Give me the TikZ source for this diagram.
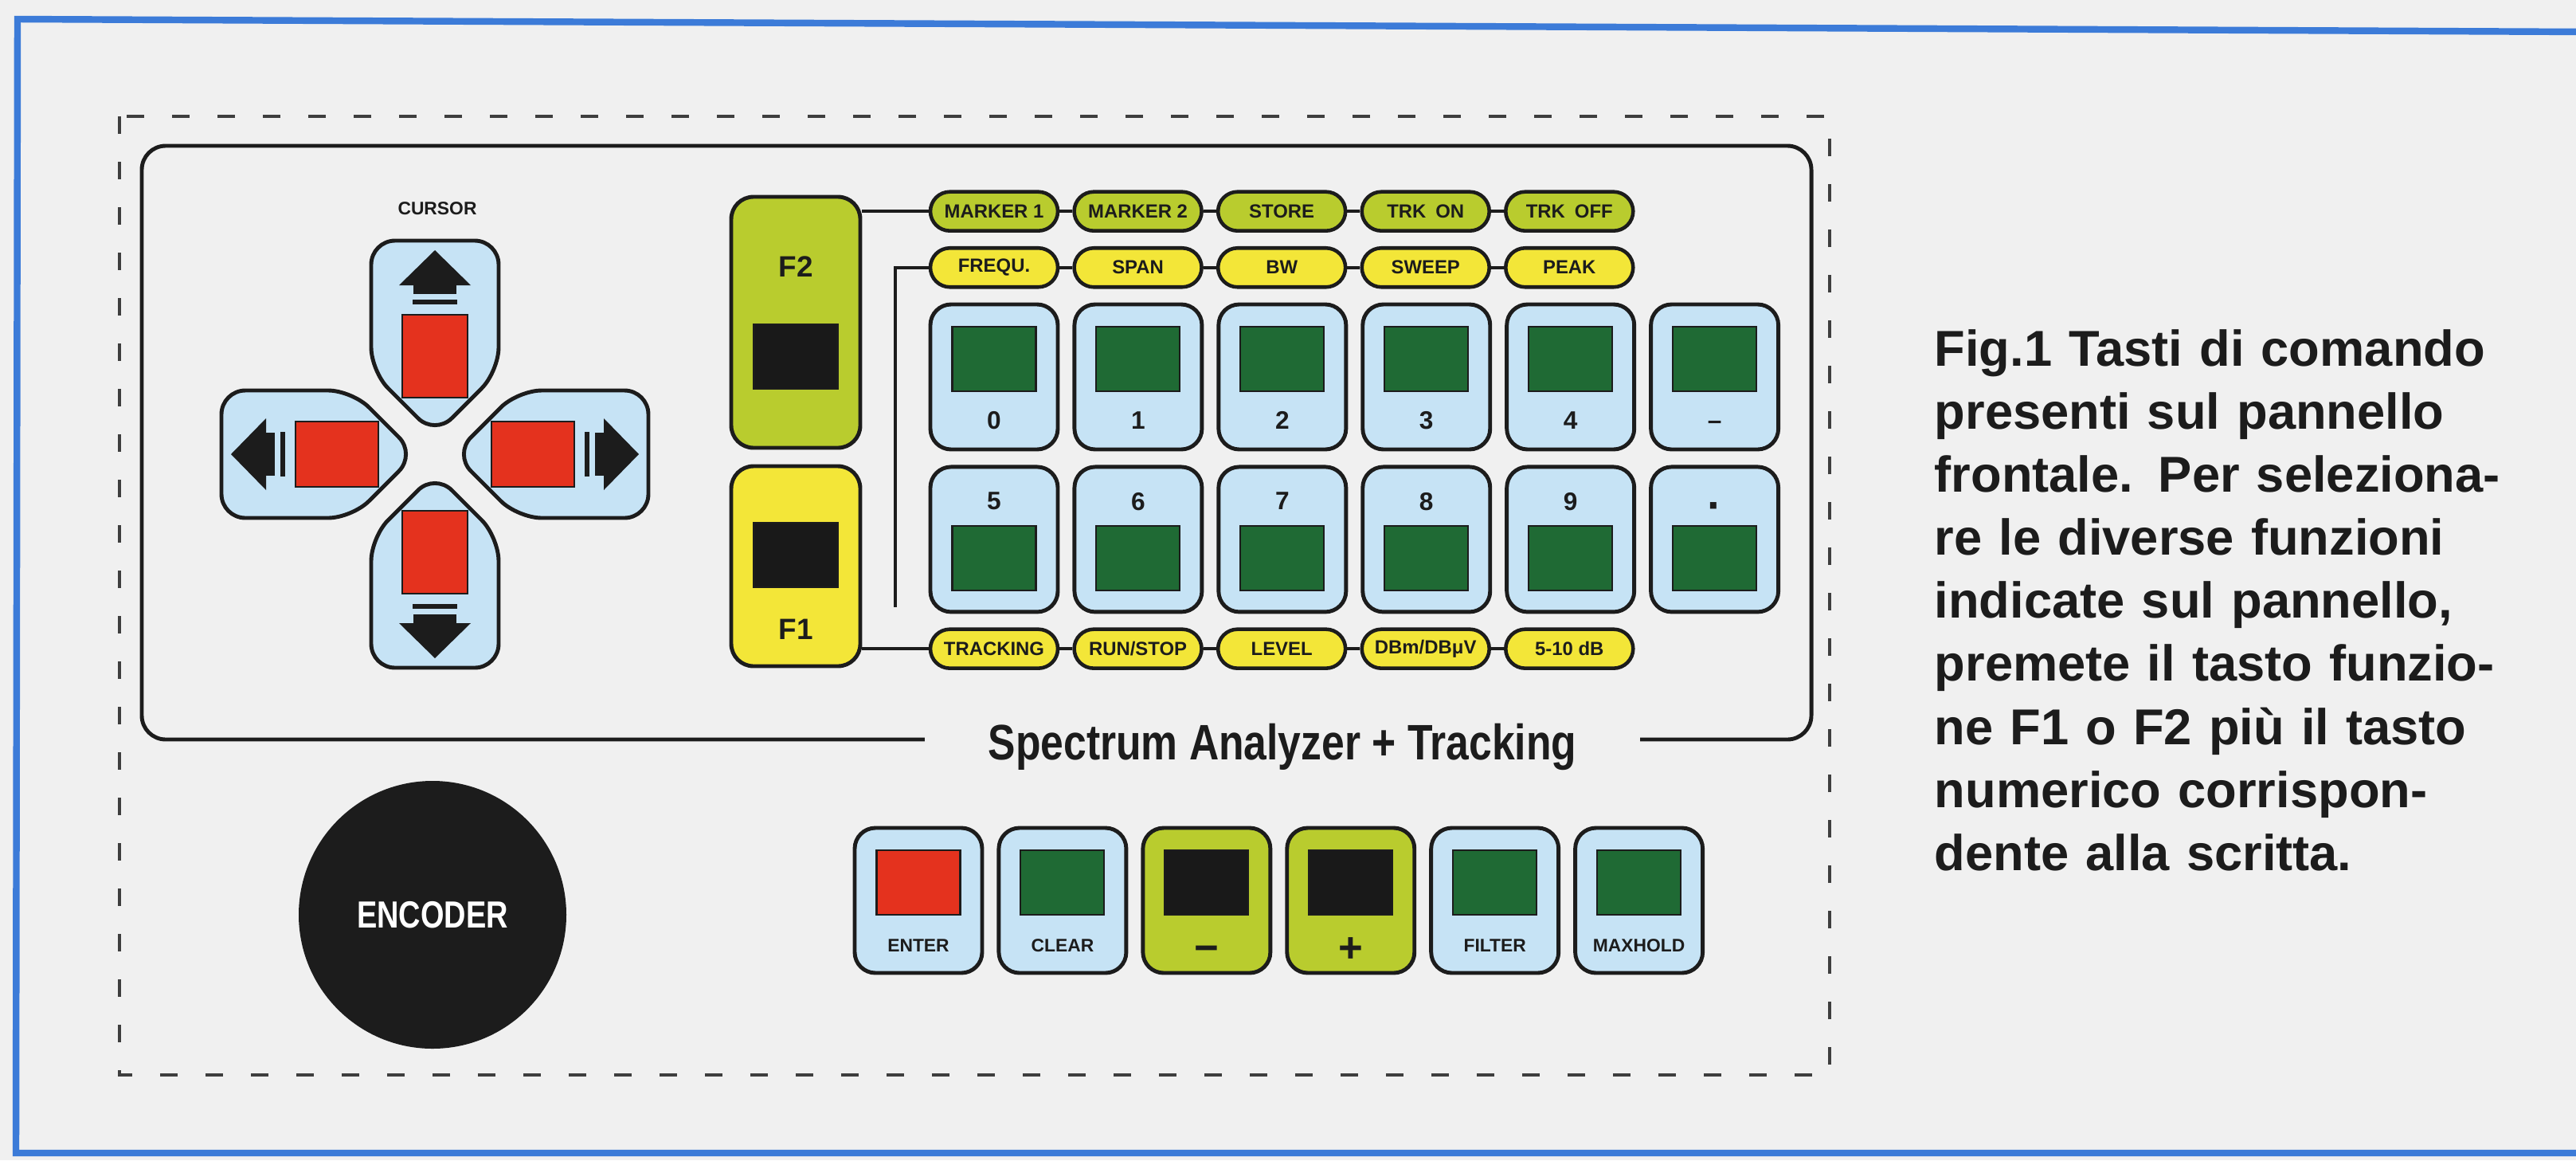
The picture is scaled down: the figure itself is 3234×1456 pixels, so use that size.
\documentclass[tikz,border=0pt]{standalone}
\usepackage{fontspec}
\setmainfont{Liberation Sans}
\usepackage{graphicx}
\usepackage{tikz}
\usetikzlibrary{positioning,calc}
\definecolor{ink}{HTML}{1C1C1C}
\definecolor{paper}{HTML}{F0F0F0}
\definecolor{frameblue}{HTML}{3C7BD8}
\definecolor{keyblue}{HTML}{C6E3F5}
\definecolor{keyred}{HTML}{E4321E}
\definecolor{keygreen}{HTML}{1F6A34}
\definecolor{lime}{HTML}{B9CC2E}
\definecolor{lemon}{HTML}{F3E638}
\tikzset{
  blueframe/.style={draw=frameblue,line width=2.4pt},
  dashbox/.style={draw=ink!85,line width=1.1pt,dash pattern=on 2.2mm off 3.5mm},
  panel/.style={draw=ink,line width=1.4pt,rounded corners=3mm},
  keybox/.style={
    rounded corners=2.6mm,draw=ink,fill=keyblue,
    line width=1.4pt,minimum width=16mm,minimum height=18.2mm,inner sep=0pt
  },
  fkey/.style={
    rounded corners=2.8mm,draw=ink,line width=1.4pt,
    minimum width=16.2mm,inner sep=0pt
  },
  pill/.style={
    rounded corners=2.45mm,draw=ink,line width=1.3pt,
    minimum width=16mm,minimum height=4.9mm,inner sep=0pt,
    font=\fontsize{6.8}{7}\selectfont\bfseries,text=ink
  },
  greensq/.style={draw=ink,fill=keygreen,line width=.6pt,
    minimum width=10.5mm,minimum height=8.1mm,inner sep=0pt},
  redsq/.style={greensq,fill=keyred},
  blacksq/.style={greensq,fill=black!90},
  keynum/.style={inner sep=0pt,font=\fontsize{9}{10}\selectfont\bfseries,text=ink},
  keytxt/.style={inner sep=0pt,font=\fontsize{6.5}{7}\selectfont\bfseries,text=ink},
  pmtxt/.style={inner sep=0pt,font=\fontsize{15}{15}\selectfont\bfseries,text=ink},
  ftxt/.style={inner sep=0pt,font=\fontsize{10.5}{11}\selectfont\bfseries,text=ink},
  wire/.style={draw=ink,line width=1.1pt},
  curkey/.style={draw=ink,fill=keyblue,line width=1.4pt,rounded corners=3mm},
  encoder/.style={circle,fill=ink,minimum size=33.6mm,inner sep=0pt,
    text=white,font=\fontsize{13.5}{14}\selectfont\bfseries},
  paneltitle/.style={fill=paper,inner xsep=8mm,inner ysep=1mm,
    font=\fontsize{17.8}{18}\selectfont\bfseries,text=ink},
  captiontext/.style={inner sep=0pt,text width=72mm,align=left,
    font=\fontsize{18}{22.5}\selectfont\bfseries,text=ink},
  cursorkey/.pic={
    \draw[curkey] (-80,-268) -- (80,-268) -- (80,-104) -- (0,-24) -- (-80,-104) -- cycle;
    \draw[draw=ink,fill=keyred,line width=.6pt] (-41,-175) rectangle (41,-71);
    \fill[ink] (0,-256) -- (45,-212) -- (-45,-212) -- cycle;
    \fill[ink] (-27,-213) rectangle (27,-201);
    \fill[ink] (-28,-194) rectangle (28,-188);
  }
}
\begin{document}
\begin{tikzpicture}[x=0.1mm,y=-0.1mm,node distance=1.7mm and 1.6mm]
\useasboundingbox (0,0) rectangle (3234,1456);
\fill[paper] (0,0) rectangle (3234,1456);
\draw[blueframe] (3245,40) -- (22,24) -- (20,1447) -- (3245,1447);
\draw[dashbox] (150,146) rectangle (2297,1349);

% front panel and its name
\draw[panel] (178,183) rectangle (2274,928);
\node[paneltitle,anchor=base] (ttl) at (1610,953)
{\scalebox{.825}[1]{Spectrum Analyzer + Tracking}};

% cursor cross
\node[keytxt] (cur) at (549,262) {CURSOR};
\pic at (546,570) {cursorkey};
\pic[rotate=90] at (546,570) {cursorkey};
\pic[rotate=180] at (546,570) {cursorkey};
\pic[rotate=-90] at (546,570) {cursorkey};

\node[encoder] (enc) at (543,1148) {\scalebox{.8}[1]{ENCODER}};

% function keys
\node[fkey,fill=lime,minimum height=31.5mm] (f2) at (999,404.5) {};
\node[ftxt,below=7.6mm of f2.north] (lf2) {F2};
\node[blacksq,below=16.1mm of f2.north] (sf2) {};
\node[fkey,fill=lemon,minimum height=25.1mm] (f1) at (999,710.5) {};
\node[blacksq,below=7.2mm of f1.north] (sf1) {};
\node[ftxt,above=3.5mm of f1.south] (lf1) {F1};

% numeric keys
\node[keybox] (k0) at (1248,473) {};
\node[keybox,right=of k0] (k1) {};
\node[keybox,right=of k1] (k2) {};
\node[keybox,right=of k2] (k3) {};
\node[keybox,right=of k3] (k4) {};
\node[keybox,right=of k4] (km) {};
\node[keybox,below=of k0] (k5) {};
\node[keybox,right=of k5] (k6) {};
\node[keybox,right=of k6] (k7) {};
\node[keybox,right=of k7] (k8) {};
\node[keybox,right=of k8] (k9) {};
\node[keybox,right=of k9] (kd) {};

\node[greensq,below=2.9mm of k0.north] (s0) {};
\node[greensq,below=2.9mm of k1.north] (s1) {};
\node[greensq,below=2.9mm of k2.north] (s2) {};
\node[greensq,below=2.9mm of k3.north] (s3) {};
\node[greensq,below=2.9mm of k4.north] (s4) {};
\node[greensq,below=2.9mm of km.north] (sm) {};
\node[greensq,above=2.8mm of k5.south] (s5) {};
\node[greensq,above=2.8mm of k6.south] (s6) {};
\node[greensq,above=2.8mm of k7.south] (s7) {};
\node[greensq,above=2.8mm of k8.south] (s8) {};
\node[greensq,above=2.8mm of k9.south] (s9) {};
\node[greensq,above=2.8mm of kd.south] (sd) {};

\node[keynum,above=2.7mm of k0.south] (n0) {0};
\node[keynum,above=2.7mm of k1.south] (n1) {1};
\node[keynum,above=2.7mm of k2.south] (n2) {2};
\node[keynum,above=2.7mm of k3.south] (n3) {3};
\node[keynum,above=2.7mm of k4.south] (n4) {4};
\node[keynum,above=2.7mm of km.south] (nm) {–};
\node[keynum,below=3.4mm of k5.north] (n5) {5};
\node[keynum,below=3.4mm of k6.north] (n6) {6};
\node[keynum,below=3.4mm of k7.north] (n7) {7};
\node[keynum,below=3.4mm of k8.north] (n8) {8};
\node[keynum,below=3.4mm of k9.north] (n9) {9};
\node[keynum,font=\fontsize{16}{16}\selectfont\bfseries,below=4.6mm of kd.north] (nd) {·};

% legend rows
\node[pill,fill=lemon,above=of k0] (fr) {FREQU.};
\node[pill,fill=lemon,right=of fr] (sp) {SPAN};
\node[pill,fill=lemon,right=of sp] (bw) {BW};
\node[pill,fill=lemon,right=of bw] (sw) {SWEEP};
\node[pill,fill=lemon,right=of sw] (pk) {PEAK};
\node[pill,fill=lime,above=of fr] (m1) {MARKER 1};
\node[pill,fill=lime,right=of m1] (m2) {MARKER 2};
\node[pill,fill=lime,right=of m2] (st) {STORE};
\node[pill,fill=lime,right=of st] (ton) {TRK\enspace ON};
\node[pill,fill=lime,right=of ton] (toff) {TRK\enspace OFF};
\node[pill,fill=lemon,below=of k5] (tr) {TRACKING};
\node[pill,fill=lemon,right=of tr] (rs) {RUN/STOP};
\node[pill,fill=lemon,right=of rs] (lv) {LEVEL};
\node[pill,fill=lemon,right=of lv] (db) {DBm/DBμV};
\node[pill,fill=lemon,right=of db] (dd) {5-10 dB};

\draw[wire] (m1) -- (m2);
\draw[wire] (m2) -- (st);
\draw[wire] (st) -- (ton);
\draw[wire] (ton) -- (toff);
\draw[wire] (fr) -- (sp);
\draw[wire] (sp) -- (bw);
\draw[wire] (bw) -- (sw);
\draw[wire] (sw) -- (pk);
\draw[wire] (tr) -- (rs);
\draw[wire] (rs) -- (lv);
\draw[wire] (lv) -- (db);
\draw[wire] (db) -- (dd);
\draw[wire] (f2.east |- m1) -- (m1);
\coordinate (jn) at ($(f1.east)!0.5!(tr.west)$ |- tr);
\draw[wire] (f1.east |- tr) -- (tr);
\draw[wire] (fr) -| (jn);

% bottom keys
\node[keybox] (ent) at (1153,1130) {};
\node[keybox,right=of ent] (clr) {};
\node[keybox,fill=lime,right=of clr] (kminus) {};
\node[keybox,fill=lime,right=of kminus] (kplus) {};
\node[keybox,right=of kplus] (flt) {};
\node[keybox,right=of flt] (mxh) {};
\node[redsq,below=2.9mm of ent.north] (sent) {};
\node[greensq,below=2.9mm of clr.north] (sclr) {};
\node[blacksq,below=2.9mm of kminus.north] (sminus) {};
\node[blacksq,below=2.9mm of kplus.north] (splus) {};
\node[greensq,below=2.9mm of flt.north] (sflt) {};
\node[greensq,below=2.9mm of mxh.north] (smxh) {};
\node[keytxt,above=2.8mm of ent.south] (lent) {ENTER};
\node[keytxt,above=2.8mm of clr.south] (lclr) {CLEAR};
\node[pmtxt,above=1.5mm of kminus.south] (lminus) {−};
\node[pmtxt,above=1.5mm of kplus.south] (lplus) {+};
\node[keytxt,above=2.8mm of flt.south] (lflt) {FILTER};
\node[keytxt,above=2.8mm of mxh.south] (lmxh) {MAXHOLD};

% caption
\node[captiontext,anchor=north west] (cap) at (2428,413) {%
\makebox[72mm][s]{Fig.1 Tasti di comando}\\
\makebox[72mm][s]{presenti sul pannello}\\
\makebox[72mm][s]{frontale. Per seleziona-}\\
\makebox[72mm][s]{re le diverse funzioni}\\
\makebox[72mm][s]{indicate sul pannello,}\\
\makebox[72mm][s]{premete il tasto funzio-}\\
\makebox[72mm][s]{ne F1 o F2 più il tasto}\\
\makebox[72mm][s]{numerico corrispon-}\\
dente alla scritta.};
\end{tikzpicture}
\end{document}
